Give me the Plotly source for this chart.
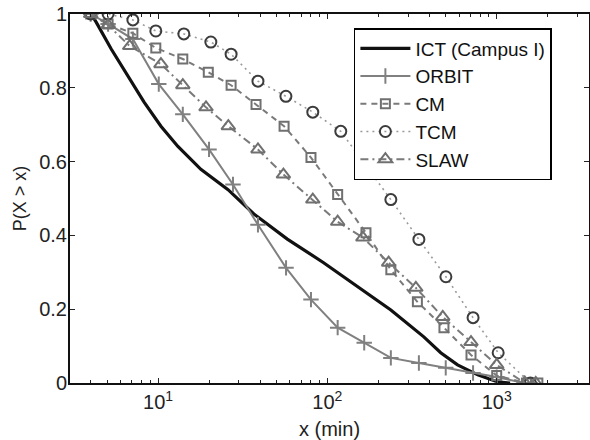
import plotly.graph_objects as go

# ---- data ----
ict_x = [4.03, 4.31, 5.29, 6.65, 8.27, 10.4, 13.1, 17.9, 25.9, 36.8, 58, 95, 151, 237, 371, 467, 587, 773, 1014, 1200]
ict_y = [1.0, 0.978, 0.905, 0.832, 0.761, 0.696, 0.641, 0.579, 0.524, 0.458, 0.390, 0.326, 0.261, 0.198, 0.125, 0.082, 0.049, 0.022, 0.003, 0.0]

orbit_x = [4, 5.07, 7.1, 10.1, 14, 20, 27.7, 38.9, 57, 80, 115, 165, 237, 347, 500, 725, 1000, 1450]
orbit_y = [1.0, 0.973, 0.932, 0.81, 0.728, 0.633, 0.538, 0.429, 0.312, 0.226, 0.15, 0.109, 0.068, 0.054, 0.041, 0.027, 0.016, 0.0]

cm_x = [4, 5.07, 7.1, 9.7, 14, 19.8, 27, 37.9, 55.5, 80, 115, 169, 237, 340, 488, 705, 1000, 1500, 1750]
cm_y = [1.0, 0.973, 0.948, 0.908, 0.878, 0.842, 0.807, 0.755, 0.696, 0.611, 0.511, 0.407, 0.307, 0.22, 0.15, 0.076, 0.02, 0.0, 0.0]

tcm_x = [4, 5.07, 7.1, 9.7, 14.2, 20.5, 27, 38.9, 56.9, 82, 120, 237, 347, 501, 725, 1020, 1580]
tcm_y = [1.0, 1.0, 0.984, 0.954, 0.946, 0.924, 0.891, 0.818, 0.777, 0.734, 0.682, 0.497, 0.389, 0.288, 0.177, 0.082, 0.0]

slaw_x = [4, 5.07, 6.8, 10.4, 14, 19.2, 26, 38.9, 55, 82, 115, 162, 230, 333, 480, 705, 1000, 1470, 1700]
slaw_y = [1.0, 0.97, 0.913, 0.864, 0.807, 0.747, 0.696, 0.633, 0.565, 0.497, 0.437, 0.394, 0.326, 0.258, 0.179, 0.111, 0.049, 0.0, 0.0]

x_tickvals = [10, 100, 1000]
x_ticktext = ["10<sup>1</sup>", "10<sup>2</sup>", "10<sup>3</sup>"]
x_minorvals = [4, 5, 6, 7, 8, 9, 20, 30, 40, 50, 60, 70, 80, 90,
               200, 300, 400, 500, 600, 700, 800, 900, 2000, 3000]
y_tickvals = [0, 0.2, 0.4, 0.6, 0.8, 1]
y_ticktext = ["0", "0.2", "0.4", "0.6", "0.8", "1"]

FONT = "Liberation Sans, Arial, sans-serif"

fig = go.Figure()
fig.add_trace(go.Scatter(x=ict_x, y=ict_y, mode="lines", name="ICT (Campus I)",
                         line=dict(color="#111111", width=3.2)))
fig.add_trace(go.Scatter(x=orbit_x, y=orbit_y, mode="lines+markers", name="ORBIT",
                         line=dict(color="#808080", width=2),
                         marker=dict(symbol="cross-thin", size=11, color="#808080",
                                     line=dict(color="#808080", width=2))))
fig.add_trace(go.Scatter(x=cm_x, y=cm_y, mode="lines+markers", name="CM",
                         line=dict(color="#7a7a7a", width=2, dash="6px,5px"),
                         marker=dict(symbol="square-open", size=9, color="#707070",
                                     line=dict(color="#707070", width=2))))
fig.add_trace(go.Scatter(x=tcm_x, y=tcm_y, mode="lines+markers", name="TCM",
                         line=dict(color="#9a9a9a", width=1.6, dash="2px,4px"),
                         marker=dict(symbol="circle-open", size=11, color="#3c3c3c",
                                     line=dict(color="#3c3c3c", width=2))))
fig.add_trace(go.Scatter(x=slaw_x, y=slaw_y, mode="lines+markers", name="SLAW",
                         line=dict(color="#7a7a7a", width=2, dash="8px,4px,2px,4px"),
                         marker=dict(symbol="triangle-up-open", size=12, color="#707070",
                                     line=dict(color="#707070", width=2))))

fig.update_layout(
    width=590, height=440,
    margin=dict(l=70, r=1, t=14, b=57),
    paper_bgcolor="white", plot_bgcolor="white",
    font=dict(family=FONT, size=20, color="#222222"),
    showlegend=True,
    legend=dict(x=0.547, y=0.962, xanchor="left", yanchor="top",
                bgcolor="white", bordercolor="black", borderwidth=1.5,
                font=dict(family=FONT, size=19, color="#111111"),
                tracegroupgap=0, itemwidth=50),
    xaxis=dict(type="log", range=[0.48, 3.545], automargin=False,
               tickvals=x_tickvals, ticktext=x_ticktext, ticklabeloverflow="allow",
               ticks="inside", ticklen=5, tickwidth=1, tickcolor="#222",
               showline=True, linecolor="#111", linewidth=2, mirror="ticks",
               showgrid=False, zeroline=False,
               minor=dict(tickvals=x_minorvals, ticks="inside", ticklen=3,
                          tickwidth=1, tickcolor="#222", showgrid=False),
               title=dict(text="x (min)", font=dict(size=20), standoff=10),
               tickfont=dict(size=20)),
    yaxis=dict(range=[0, 1.0], tickvals=y_tickvals, ticktext=y_ticktext, automargin=False,
               ticklabeloverflow="allow", ticklabelstandoff=-3,
               ticks="inside", ticklen=5, tickwidth=1, tickcolor="#222",
               showline=True, linecolor="#111", linewidth=2, mirror="ticks",
               showgrid=False, zeroline=False,
               title=dict(text="P(X > x)", font=dict(size=18), standoff=8),
               tickfont=dict(size=20)),
)

# remove the page's default body margin so the 590x440 figure fills the window exactly
fig.write_html("out.html", config={"displayModeBar": False},
               post_script="document.body.style.margin='0';document.body.style.overflow='hidden';")
